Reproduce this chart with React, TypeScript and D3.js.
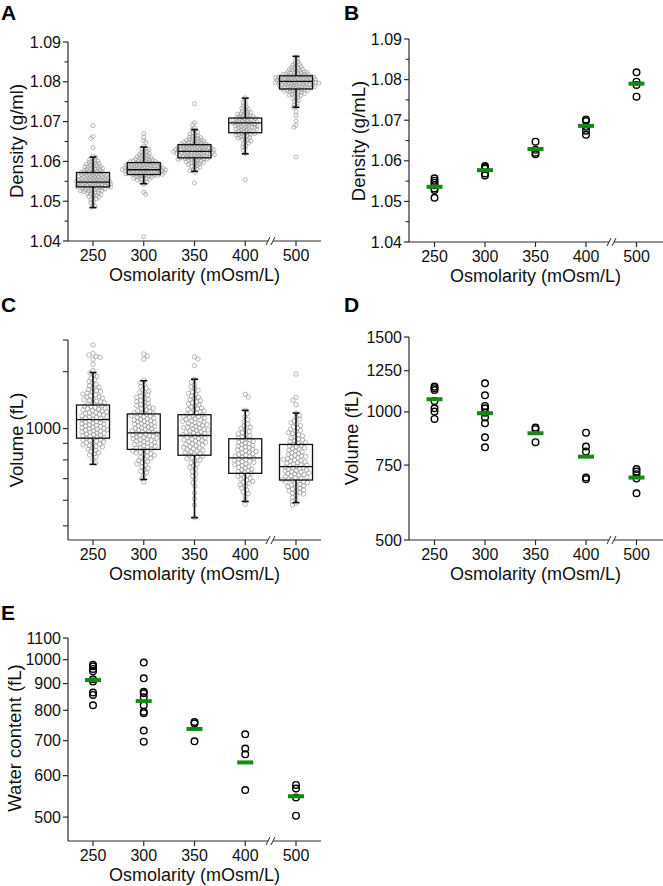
import React from 'react';
import * as d3 from 'd3';

// ---------- shared categories ----------
const categories = ['250', '300', '350', '400', '500'];

// ---------- Panel A: density histograms [value g/ml, count] ----------
const densityHist250: [number, number][] = [
  [1.0485, 1], [1.049, 2], [1.05, 3], [1.051, 5], [1.052, 8], [1.053, 13], [1.054, 18], [1.055, 18],
  [1.056, 15], [1.057, 13], [1.058, 10], [1.059, 8], [1.06, 6], [1.061, 3], [1.0635, 1], [1.066, 2], [1.069, 1],
];
const densityHist300: [number, number][] = [
  [1.0411, 1], [1.052, 2], [1.0545, 2], [1.055, 3], [1.056, 11], [1.057, 20], [1.058, 23], [1.059, 19],
  [1.06, 13], [1.061, 8], [1.062, 6], [1.063, 3], [1.0635, 2], [1.065, 2], [1.066, 1], [1.067, 1],
];
const densityHist350: [number, number][] = [
  [1.0546, 1], [1.0575, 2], [1.058, 3], [1.059, 6], [1.06, 10], [1.061, 16], [1.062, 20], [1.063, 20],
  [1.064, 16], [1.065, 11], [1.066, 7], [1.067, 4], [1.068, 3], [1.0695, 2], [1.0745, 1],
];
const densityHist400: [number, number][] = [
  [1.0554, 1], [1.062, 1], [1.063, 2], [1.064, 3], [1.065, 4], [1.066, 7], [1.067, 9], [1.068, 10],
  [1.069, 12], [1.07, 13], [1.071, 10], [1.072, 7], [1.073, 4], [1.074, 3], [1.075, 2], [1.076, 1],
];
const densityHist500: [number, number][] = [
  [1.0611, 1], [1.0688, 2], [1.0701, 1], [1.0715, 1], [1.0725, 1], [1.0736, 1], [1.074, 2], [1.075, 3],
  [1.076, 4], [1.077, 8], [1.078, 13], [1.079, 18], [1.08, 21], [1.081, 21], [1.082, 13], [1.083, 8],
  [1.084, 5], [1.085, 3], [1.086, 2],
];
const densityWhiskerLow = [1.0484, 1.0544, 1.0575, 1.0619, 1.0736];
const densityQ1 = [1.0536, 1.0567, 1.0609, 1.0672, 1.0782];
const densityMedian = [1.0548, 1.0579, 1.0625, 1.0697, 1.0801];
const densityQ3 = [1.0572, 1.0597, 1.0642, 1.0709, 1.0815];
const densityWhiskerHigh = [1.0611, 1.0636, 1.068, 1.0759, 1.0864];

const densityTicks = [1.04, 1.05, 1.06, 1.07, 1.08, 1.09];
const densityMinorTicks = [1.045, 1.055, 1.065, 1.075, 1.085];

// ---------- Panel B: density means and individual values ----------
const densityMeansB = [1.0536, 1.0577, 1.0629, 1.0686, 1.079];
const densityPointsB = [
  [1.0557, 1.0551, 1.0546, 1.054, 1.0532, 1.0528, 1.0509],
  [1.0587, 1.0584, 1.0581, 1.0569, 1.0564],
  [1.0647, 1.0627, 1.062, 1.0616],
  [1.0702, 1.0698, 1.0684, 1.0674, 1.0664],
  [1.0818, 1.0795, 1.0787, 1.0758],
];

// ---------- Panel C: volume histograms [value fL, count] ----------
const volumeHist250: [number, number][] = [
  [800, 3], [850, 7], [900, 11], [950, 13], [1000, 13], [1050, 12], [1100, 11], [1150, 10], [1200, 8],
  [1250, 7], [1300, 6], [1350, 4], [1400, 3], [1450, 3], [1500, 2], [1580, 1], [1650, 2], [1690, 3], [1815, 1],
];
const volumeHist300: [number, number][] = [
  [700, 3], [750, 6], [800, 8], [850, 11], [900, 12], [950, 13], [1000, 12], [1050, 11], [1100, 10],
  [1150, 7], [1200, 6], [1250, 5], [1300, 4], [1350, 3], [1400, 2], [1640, 1], [1690, 2],
];
const volumeHist350: [number, number][] = [
  [530, 1], [580, 1], [620, 2], [680, 3], [730, 4], [780, 6], [830, 10], [880, 11], [930, 12], [980, 12],
  [1030, 11], [1080, 10], [1130, 8], [1180, 6], [1230, 5], [1280, 4], [1330, 3], [1380, 2], [1420, 1],
  [1567, 1], [1655, 2],
];
const volumeHist400: [number, number][] = [
  [600, 3], [650, 6], [700, 10], [750, 11], [800, 12], [850, 11], [900, 10], [950, 7], [1000, 5],
  [1050, 3], [1100, 2], [1140, 1], [1264, 2],
];
const volumeHist500: [number, number][] = [
  [600, 6], [650, 13], [700, 16], [750, 16], [800, 13], [850, 10], [900, 9], [950, 7], [1000, 6],
  [1050, 4], [1100, 3], [1186, 1], [1237, 2], [1474, 1],
];
const volumeWhiskerLow = [775, 696, 530, 595, 590];
const volumeQ1 = [934, 862, 827, 727, 693];
const volumeMedian = [1066, 970, 952, 812, 762];
const volumeQ3 = [1183, 1110, 1104, 930, 893];
const volumeWhiskerHigh = [1491, 1406, 1422, 1139, 1117];

const volumeTicksC = [1000];
const volumeMinorTicksC = [500, 600, 700, 800, 900, 1500, 1880];

// ---------- Panel D: volume means and individual values ----------
const volumeMeansD = [1071, 993, 891, 785, 701];
const volumePointsD = [
  [1147, 1137, 1126, 1061, 1020, 1002, 963],
  [1168, 1094, 1033, 1020, 996, 970, 941, 872, 826],
  [919, 911, 849],
  [894, 829, 807, 701, 695],
  [734, 724, 714, 697, 644],
];
const volumeTicksD = [500, 750, 1000, 1250, 1500];

// ---------- Panel E: water content means and individual values ----------
const waterMeansE = [914, 833, 737, 636, 548];
const waterPointsE = [
  [978, 971, 960, 950, 917, 908, 865, 856, 818],
  [987, 921, 868, 862, 847, 818, 795, 790, 732, 697],
  [760, 755, 698],
  [720, 676, 659, 563],
  [576, 567, 545, 503],
];
const waterTicksE = [500, 600, 700, 800, 900, 1000, 1100];

// ---------- helpers ----------
const FONT = '"Liberation Sans", Arial, Helvetica, sans-serif';
const AXIS = '#2a2a2a';

function expand(hist: [number, number][], y: (v: number) => number, binW: number): number[] {
  const ys: number[] = [];
  hist.forEach(([v, n]) => {
    if (n === 1) {
      ys.push(y(v));
      return;
    }
    const a = y(v - binW / 2);
    const b = y(v + binW / 2);
    for (let i = 0; i < n; i++) {
      const t = (i + 0.5) / n;
      ys.push(a + (b - a) * t);
    }
  });
  return ys;
}

function swarm(ys: number[], d: number): number[] {
  const order = ys.map((_, i) => i).sort((i, j) => ys[i] - ys[j]);
  const xs = new Array(ys.length).fill(0);
  const placed: number[] = [];
  order.forEach((idx, k) => {
    const y = ys[idx];
    const step = 0.5;
    const sgn = k % 2 ? -1 : 1;
    for (let s = 0; s < 400; s++) {
      const m = Math.ceil(s / 2) * step * (s % 2 === 0 ? 1 : -1) * sgn;
      let ok = true;
      for (const p of placed) {
        const dy = ys[p] - y;
        if (Math.abs(dy) >= d) continue;
        const dx = xs[p] - m;
        if (dx * dx + dy * dy < d * d) {
          ok = false;
          break;
        }
      }
      if (ok) {
        xs[idx] = m;
        break;
      }
    }
    placed.push(idx);
  });
  return xs;
}

type FrameProps = {
  x0: number;
  x1: number;
  yTop: number;
  yBot: number;
  xs: d3.ScalePoint<string>;
  breakX: number;
  y: (v: number) => number;
  ticks: number[];
  minor: number[];
  fmt: (v: number) => string;
  yTitle: string;
  titleX: number;
  titleY: number;
  letter: string;
  letterX: number;
  letterY: number;
  minorLen?: number;
};

function Frame(p: FrameProps) {
  const gap = 2.5;
  return (
    <g>
      <text x={p.letterX} y={p.letterY} fontFamily={FONT} fontWeight="bold" fontSize={21} fill="#000">
        {p.letter}
      </text>
      {/* y axis */}
      <line x1={p.x0} x2={p.x0} y1={p.yTop} y2={p.yBot} stroke={AXIS} strokeWidth={1.2} />
      {p.ticks.map((t) => (
        <g key={'t' + t}>
          <line x1={p.x0 - 5} x2={p.x0} y1={p.y(t)} y2={p.y(t)} stroke={AXIS} strokeWidth={1.2} />
          <text x={p.x0 - 7} y={p.y(t) + 5.5} textAnchor="end" fontFamily={FONT} fontSize={16} fill="#111">
            {p.fmt(t)}
          </text>
        </g>
      ))}
      {p.minor.map((t) => (
        <line key={'m' + t} x1={p.x0 - (p.minorLen ?? 3.5)} x2={p.x0} y1={p.y(t)} y2={p.y(t)} stroke={AXIS} strokeWidth={1.1} />
      ))}
      <text
        transform={`translate(${p.titleX},${p.titleY}) rotate(-90)`}
        textAnchor="middle"
        fontFamily={FONT}
        fontSize={18.5}
        fill="#111"
      >
        {p.yTitle}
      </text>
      {/* x axis with break */}
      <line x1={p.x0} x2={p.breakX - gap} y1={p.yBot} y2={p.yBot} stroke={AXIS} strokeWidth={1.2} />
      <line x1={p.breakX + gap} x2={p.x1} y1={p.yBot} y2={p.yBot} stroke={AXIS} strokeWidth={1.2} />
      <line x1={p.breakX - gap - 2} x2={p.breakX - gap + 2} y1={p.yBot + 4} y2={p.yBot - 4} stroke={AXIS} strokeWidth={1} />
      <line x1={p.breakX + gap - 2} x2={p.breakX + gap + 2} y1={p.yBot + 4} y2={p.yBot - 4} stroke={AXIS} strokeWidth={1} />
      {categories.map((c) => (
        <g key={c}>
          <line x1={p.xs(c)!} x2={p.xs(c)!} y1={p.yBot} y2={p.yBot + 5} stroke={AXIS} strokeWidth={1.2} />
          <text x={p.xs(c)!} y={p.yBot + 20} textAnchor="middle" fontFamily={FONT} fontSize={16} fill="#111">
            {c}
          </text>
        </g>
      ))}
      <text
        x={(p.xs(categories[0])! + p.xs(categories[4])!) / 2}
        y={p.yBot + 40}
        textAnchor="middle"
        fontFamily={FONT}
        fontSize={18}
        fill="#111"
      >
        Osmolarity (mOsm/L)
      </text>
    </g>
  );
}

type BoxProps = {
  xs: d3.ScalePoint<string>;
  y: (v: number) => number;
  hists: [number, number][][];
  binW: number;
  d: number;
  lo: number[];
  q1: number[];
  med: number[];
  q3: number[];
  hi: number[];
  r: number;
};

function BoxSwarm(p: BoxProps) {
  const bw = 33;
  const cap = 7;
  return (
    <g>
      {p.hists.map((h, gi) => {
        const cx = p.xs(categories[gi])!;
        const ys = expand(h, p.y, p.binW);
        const dx = swarm(ys, p.d);
        return (
          <g key={'pts' + gi}>
            {ys.map((yy, i) => (
              <circle key={i} cx={cx + dx[i]} cy={yy} r={p.r} fill="none" stroke="#9a9a9a" strokeWidth={0.7} />
            ))}
          </g>
        );
      })}
      {categories.map((c, gi) => {
        const cx = p.xs(c)!;
        return (
          <g key={'box' + c} stroke="#111" fill="none">
            <line x1={cx} x2={cx} y1={p.y(p.hi[gi])} y2={p.y(p.q3[gi])} strokeWidth={1.6} />
            <line x1={cx} x2={cx} y1={p.y(p.q1[gi])} y2={p.y(p.lo[gi])} strokeWidth={1.6} />
            <line x1={cx - cap / 2} x2={cx + cap / 2} y1={p.y(p.hi[gi])} y2={p.y(p.hi[gi])} strokeWidth={1.6} />
            <line x1={cx - cap / 2} x2={cx + cap / 2} y1={p.y(p.lo[gi])} y2={p.y(p.lo[gi])} strokeWidth={1.6} />
            <rect
              x={cx - bw / 2}
              y={p.y(p.q3[gi])}
              width={bw}
              height={p.y(p.q1[gi]) - p.y(p.q3[gi])}
              strokeWidth={1.3}
            />
            <line x1={cx - bw / 2} x2={cx + bw / 2} y1={p.y(p.med[gi])} y2={p.y(p.med[gi])} strokeWidth={1.3} />
          </g>
        );
      })}
    </g>
  );
}

type MeanProps = {
  xs: d3.ScalePoint<string>;
  y: (v: number) => number;
  points: number[][];
  means: number[];
};

function MeanDots(p: MeanProps) {
  return (
    <g>
      {p.points.map((vals, gi) => {
        const cx = p.xs(categories[gi])!;
        return vals.map((v, i) => (
          <circle key={gi + '-' + i} cx={cx} cy={p.y(v)} r={3.3} fill="none" stroke="#000" strokeWidth={1.4} />
        ));
      })}
      {p.means.map((m, gi) => {
        const cx = p.xs(categories[gi])!;
        return <rect key={'m' + gi} x={cx - 8} y={p.y(m) - 2} width={16} height={4} fill="#138a13" />;
      })}
    </g>
  );
}

export default function App() {
  // Panel A
  const xA = d3.scalePoint<string>().domain(categories).range([93, 296]);
  const yA = d3.scaleLinear().domain([1.04, 1.09]).range([241, 42]);
  // Panel B
  const xB = d3.scalePoint<string>().domain(categories).range([434.5, 636.5]);
  const yB = d3.scaleLinear().domain([1.04, 1.09]).range([242, 39]);
  // Panel C
  const xC = d3.scalePoint<string>().domain(categories).range([93, 296]);
  const yC = d3.scaleLog().domain([452, 1880]).range([540, 340]);
  // Panel D
  const xD = d3.scalePoint<string>().domain(categories).range([434.5, 636.5]);
  const yD = d3.scaleLog().domain([500, 1500]).range([540, 337]);
  // Panel E
  const xE = d3.scalePoint<string>().domain(categories).range([93, 296]);
  const yE = d3.scaleLog().domain([450, 1100]).range([841, 638]);

  const f2 = d3.format('.2f');
  const fi = d3.format('d');

  return (
    <svg
      width={663}
      height={886}
      viewBox="0 0 663 886"
      style={{ position: 'absolute', left: 0, top: 0, background: '#fff' }}
    >
      <rect x={0} y={0} width={663} height={886} fill="#fff" />

      {/* A */}
      <BoxSwarm
        xs={xA}
        y={yA}
        hists={[densityHist250, densityHist300, densityHist350, densityHist400, densityHist500]}
        binW={0.001}
        d={2.7}
        r={2}
        lo={densityWhiskerLow}
        q1={densityQ1}
        med={densityMedian}
        q3={densityQ3}
        hi={densityWhiskerHigh}
      />
      <Frame
        x0={68} x1={321} yTop={42} yBot={241} xs={xA} breakX={270.5} y={yA}
        ticks={densityTicks} minor={densityMinorTicks} fmt={f2}
        yTitle="Density (g/ml)" titleX={23} titleY={141} letter="A" letterX={1} letterY={20}
      />

      {/* B */}
      <MeanDots xs={xB} y={yB} points={densityPointsB} means={densityMeansB} />
      <Frame
        x0={409} x1={663} yTop={39} yBot={242} xs={xB} breakX={611.5} y={yB}
        ticks={densityTicks} minor={densityMinorTicks} fmt={f2}
        yTitle="Density (g/mL)" titleX={365} titleY={141} letter="B" letterX={344} letterY={20}
      />

      {/* C */}
      <BoxSwarm
        xs={xC}
        y={yC}
        hists={[volumeHist250, volumeHist300, volumeHist350, volumeHist400, volumeHist500]}
        binW={50}
        d={3.8}
        r={2.2}
        lo={volumeWhiskerLow}
        q1={volumeQ1}
        med={volumeMedian}
        q3={volumeQ3}
        hi={volumeWhiskerHigh}
      />
      <Frame
        x0={68} x1={321} yTop={340} yBot={540} xs={xC} breakX={270.5} y={yC}
        ticks={volumeTicksC} minor={volumeMinorTicksC} fmt={fi} minorLen={5}
        yTitle="Volume (fL)" titleX={23} titleY={440} letter="C" letterX={1} letterY={312}
      />

      {/* D */}
      <MeanDots xs={xD} y={yD} points={volumePointsD} means={volumeMeansD} />
      <Frame
        x0={409} x1={663} yTop={337} yBot={540} xs={xD} breakX={611.5} y={yD}
        ticks={volumeTicksD} minor={[]} fmt={fi}
        yTitle="Volume (fL)" titleX={358} titleY={438} letter="D" letterX={344} letterY={312}
      />

      {/* E */}
      <MeanDots xs={xE} y={yE} points={waterPointsE} means={waterMeansE} />
      <Frame
        x0={68} x1={321} yTop={638} yBot={841} xs={xE} breakX={270.5} y={yE}
        ticks={waterTicksE} minor={[]} fmt={fi}
        yTitle="Water content (fL)" titleX={21} titleY={738} letter="E" letterX={1} letterY={620}
      />
    </svg>
  );
}
